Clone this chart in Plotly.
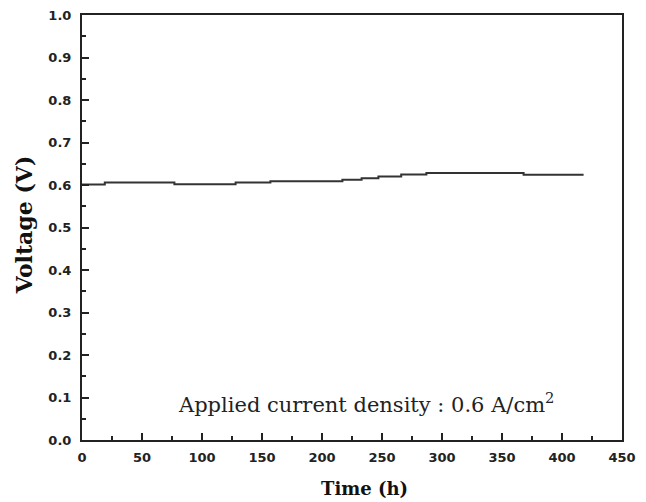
import plotly.graph_objects as go

# time (h) and cell voltage (V)
time_h = [0, 19, 77, 128, 157, 217, 233, 247, 266, 287, 368, 418]
voltage = [0.601, 0.606, 0.602, 0.606, 0.609, 0.6125, 0.616, 0.620, 0.625, 0.628, 0.624, 0.624]

x_ticks = [0, 50, 100, 150, 200, 250, 300, 350, 400, 450]
y_ticks = [0.0, 0.1, 0.2, 0.3, 0.4, 0.5, 0.6, 0.7, 0.8, 0.9, 1.0]

fig = go.Figure(go.Scatter(
    x=time_h, y=voltage, mode="lines", line_shape="hv",
    line=dict(color="#333333", width=2), showlegend=False,
))

tick_font = dict(family="DejaVu Sans", size=13, color="#222222", weight="bold")

fig.update_xaxes(
    range=[0, 450], tickvals=x_ticks, ticktext=[str(v) for v in x_ticks],
    ticks="inside", ticklen=7, tickwidth=1.5, tickcolor="#222222",
    minor=dict(dtick=25, ticks="inside", ticklen=4, tickcolor="#222222"),
    showline=True, linecolor="#222222", linewidth=2, mirror=True,
    showgrid=False, zeroline=False, tickfont=tick_font, automargin=False,
    ticklabelstandoff=4, ticklabeloverflow="allow",
)
fig.update_yaxes(
    range=[0, 1.0], tickvals=y_ticks, ticktext=[f"{v:.1f}" for v in y_ticks],
    ticks="inside", ticklen=7, tickwidth=1.5, tickcolor="#222222",
    minor=dict(dtick=0.05, ticks="inside", ticklen=4, tickcolor="#222222"),
    showline=True, linecolor="#222222", linewidth=2, mirror=True,
    showgrid=False, zeroline=False, tickfont=tick_font, automargin=False,
    ticklabelstandoff=6, ticklabeloverflow="allow",
)

# axis titles as annotations so they can sit where the original has them
fig.add_annotation(
    x=0.524, y=-0.113, xref="paper", yref="paper", showarrow=False,
    xanchor="center", yanchor="middle",
    text="<b>Time (h)</b>",
    font=dict(family="DejaVu Serif", size=18, color="#111111"),
)
fig.add_annotation(
    x=-0.106, y=0.505, xref="paper", yref="paper", showarrow=False,
    xanchor="center", yanchor="middle",
    text="<b>Voltage (V)</b>", textangle=-90,
    font=dict(family="DejaVu Serif", size=22, color="#111111"),
)

fig.add_annotation(
    x=0.526, y=0.05, xref="paper", yref="paper", showarrow=False,
    xanchor="center", yanchor="bottom",
    text="Applied current density : 0.6 A/cm<sup>2</sup>",
    font=dict(family="DejaVu Serif", size=21, color="#222222"),
)

# page body adds an 8px offset, so margins are shifted to compensate
fig.update_layout(
    width=646, height=502,
    margin=dict(l=74, r=32, t=7, b=70),
    plot_bgcolor="white", paper_bgcolor="white",
)

fig.write_html("out.html")
